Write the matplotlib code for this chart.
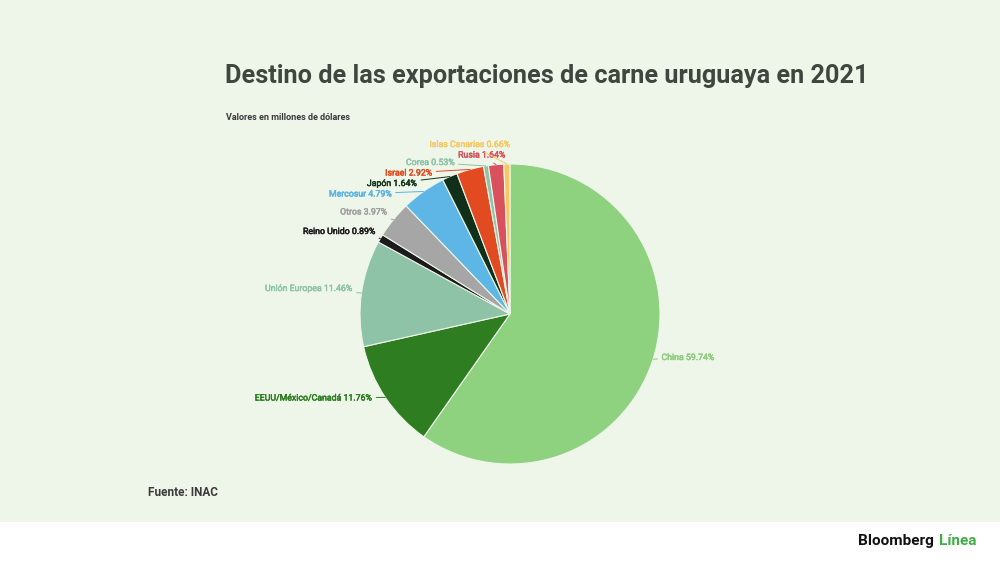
import numpy as np
import matplotlib
matplotlib.use("Agg")
import matplotlib.pyplot as plt
from matplotlib.patches import Rectangle
import matplotlib.patheffects as pe

plt.rcParams['font.family'] = ['Roboto', 'DejaVu Sans']

# ---- data ----
categories = ["China", "EEUU/México/Canadá", "Unión Europea", "Reino Unido", "Otros",
              "Mercosur", "Japón", "Israel", "Corea", "Rusia", "Islas Canarias"]
shares = [59.74, 11.76, 11.46, 0.89, 3.97, 4.79, 1.64, 2.92, 0.53, 1.64, 0.66]
title = "Destino de las exportaciones de carne uruguaya en 2021"
subtitle = "Valores en millones de dólares"
source = "Fuente: INAC"

# ---- styles ----
colors = ["#8ed17e", "#2e7d20", "#8fc3a8", "#1b1b1b", "#a6a6a6",
          "#5db6e6", "#10301a", "#e24b22", "#8fc3a8", "#d9515c", "#f5c862"]
label_colors = ["#8ccc7c", "#2e7d20", "#8fc3a8", "#1b1b1b", "#a0a0a0",
                "#5ab3e3", "#14331a", "#e24b22", "#8fc3a8", "#d9515c", "#f5c862"]
# label anchor positions (pie radius units)
label_pos = [(1.01, -0.29), (-0.92, -0.56), (-1.05, 0.17), (-0.90, 0.55), (-0.82, 0.68),
             (-0.79, 0.80), (-0.62, 0.87), (-0.52, 0.94), (-0.37, 1.01), (-0.03, 1.06),
             (0.00, 1.13)]

BG = "#edf6e9"
W, H = 1000, 562
cx, cy, R = 510, 314, 150

fig = plt.figure(figsize=(10, 5.62), dpi=100, facecolor=BG)
fig.patches.append(Rectangle((0, 0), 1, 40 / H, transform=fig.transFigure,
                             facecolor="white", edgecolor="none", zorder=0))

ax = fig.add_axes([0, 0, 1, 1])
ax.set_facecolor("none")
ax.axis("off")

wedges, _ = ax.pie(shares, colors=colors, startangle=90, counterclock=False,
                   radius=1.0, center=(0, 0), frame=False,
                   wedgeprops=dict(edgecolor=BG, linewidth=0.8))
ax.set_xlim(-cx / R, (W - cx) / R)
ax.set_ylim(-(H - cy) / R, cy / R)
ax.set_aspect("auto")

for w, name, val, lc, pos in zip(wedges, categories, shares, label_colors, label_pos):
    ang = np.deg2rad((w.theta1 + w.theta2) / 2)
    xy = (np.cos(ang) * 1.0, np.sin(ang) * 1.0)
    ha = "left" if pos[0] > 0.5 else "right"
    t = ax.annotate(f"{name} {val:.2f}%", xy=xy, xytext=pos, ha=ha, va="center",
                    fontsize=6.3, color=lc, fontweight="normal",
                    arrowprops=dict(arrowstyle="-", color=lc, lw=0.7,
                                    shrinkA=1, shrinkB=0))
    t.set_path_effects([pe.withStroke(linewidth=0.35, foreground=lc)])

fig.text(0.547, 1 - 76 / H, title, ha="center", va="center", fontsize=18.2,
         fontweight="bold", color="#3f463f")
fig.text(0.226, 1 - 118 / H, subtitle, ha="left", va="center", fontsize=6.45,
         fontweight="bold", color="#3a3a3a")
fig.text(0.148, 1 - 493 / H, source, ha="left", va="center", fontsize=8.5,
         fontweight="bold", color="#3a3a3a")
fig.text(0.938, 1 - 541 / H, "Bloomberg ", ha="right", va="center", fontsize=11,
         fontweight="bold", color="#111111")
fig.text(0.9385, 1 - 541 / H, "Línea", ha="left", va="center", fontsize=11,
         fontweight="bold", color="#3fae46")

fig.savefig("out.png", dpi=100, facecolor=BG)
